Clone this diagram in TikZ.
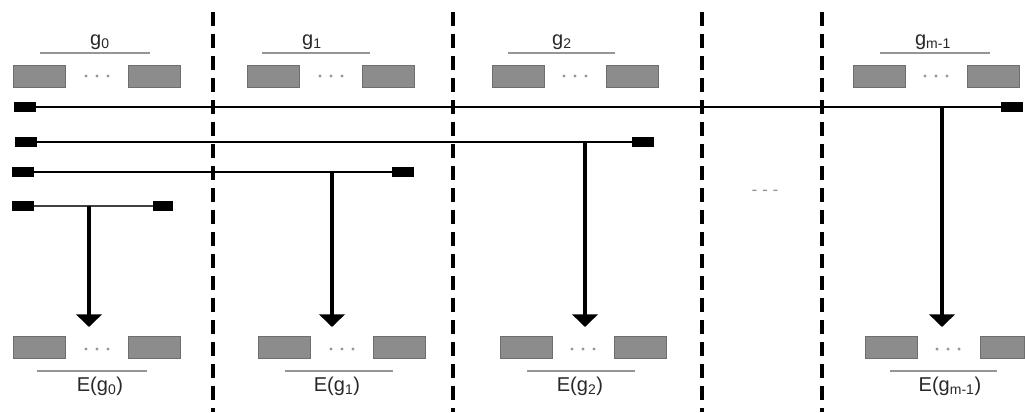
\documentclass[tikz,border=0pt]{standalone}
\usepackage{fontspec}
\setmainfont{Liberation Sans}
\usetikzlibrary{arrows.meta}
\definecolor{boxfill}{RGB}{140,140,140}
\definecolor{boxline}{RGB}{110,110,110}
\definecolor{txt}{RGB}{40,40,40}
\definecolor{uline}{RGB}{150,150,150}
\tikzset{
  gbox/.style={fill=boxfill,draw=boxline,line width=0.5pt,minimum width=39pt,minimum height=16.5pt,inner sep=0pt},
  blk/.style={fill=black,minimum width=16.5pt,minimum height=7pt,inner sep=0pt},
  lbl/.style={text=txt,font=\fontsize{15}{17}\selectfont,inner sep=0pt},
  ul/.style={draw=uline,line width=0.8pt},
  hline/.style={line width=1.5pt},
  drop/.style={line width=2.4pt,-{Triangle[width=19pt,length=9.5pt]}},
  sep/.style={line width=3.3pt,dash pattern=on 10.5pt off 6pt},
  dotc/.style={fill=uline,circle,inner sep=0pt,minimum size=2.6pt},
}
\newcommand{\gdots}[2]{%
  \node[dotc] at (#1-11,#2) {};
  \node[dotc] at (#1,#2) {};
  \node[dotc] at (#1+11,#2) {};}
\begin{document}
\begin{tikzpicture}[x=0.75pt,y=-0.75pt]
\useasboundingbox (0,0) rectangle (1025,412);
\fill[white] (0,0) rectangle (1025,412);
% separators
\foreach \i/\x in {1/213,2/453,3/702,4/822}{
  \coordinate (st\i) at (\x,12);
  \coordinate (sb\i) at (\x,412);
  \draw[sep] (st\i) -- (sb\i);
}
% top labels
\node[lbl] (g0) at (100,42) {g\textsubscript{0}};
\node[lbl] (g1) at (312,42) {g\textsubscript{1}};
\node[lbl] (g2) at (562,42) {g\textsubscript{2}};
\node[lbl] (gm) at (933,42) {g\textsubscript{m-1}};
\draw[ul] (40,53) -- (150,53);
\draw[ul] (262,53) -- (370,53);
\draw[ul] (508,53) -- (615,53);
\draw[ul] (880,53) -- (990,53);
% top boxes
\node[gbox] (t0a) at (39,76) {};  \node[gbox] (t0b) at (154,76) {}; \gdots{97}{76}
\node[gbox] (t1a) at (273,76) {}; \node[gbox] (t1b) at (388,76) {}; \gdots{331}{76}
\node[gbox] (t2a) at (518,76) {}; \node[gbox] (t2b) at (632,76) {}; \gdots{575}{76}
\node[gbox] (tma) at (879,76) {}; \node[gbox] (tmb) at (993,76) {}; \gdots{936}{76}
% lines with blocks
\node[blk] (l1a) at (25,107) {};  \node[blk] (l1b) at (1012,107) {};
\node[blk] (l2a) at (26,142) {};  \node[blk] (l2b) at (643,142) {};
\node[blk] (l3a) at (23,172) {};  \node[blk] (l3b) at (403,172) {};
\node[blk] (l4a) at (23,206) {};  \node[blk,minimum width=15pt] (l4b) at (163,206) {};
\draw[hline] (l1a) -- (l1b);
\draw[hline] (l2a) -- (l2b);
\draw[hline] (l3a) -- (l3b);
\draw[line width=1pt,draw=black!75] (l4a) -- (l4b);
% drops
\coordinate (d1) at (942,107); \coordinate (e1) at (942,327);
\coordinate (d2) at (585,142); \coordinate (e2) at (585,327);
\coordinate (d3) at (332,172); \coordinate (e3) at (332,327);
\coordinate (d4) at (89,206);  \coordinate (e4) at (89,327);
\draw[drop] (d1) -- (e1);
\draw[drop] (d2) -- (e2);
\draw[drop] (d3) -- (e3);
\draw[drop] (d4) -- (e4);
% middle dots
\node[text=uline,font=\fontsize{13}{15}\selectfont] (mid) at (765,193) {- - -};
% bottom boxes
\node[gbox] (b0a) at (39,347) {};  \node[gbox] (b0b) at (154,347) {}; \gdots{97}{349}
\node[gbox] (b1a) at (284,347) {}; \node[gbox] (b1b) at (399,347) {}; \gdots{342}{349}
\node[gbox] (b2a) at (526,347) {}; \node[gbox] (b2b) at (640,347) {}; \gdots{583}{349}
\node[gbox] (bma) at (891,347) {}; \node[gbox,minimum width=33pt] (bmb) at (1002,347) {}; \gdots{948}{349}
\draw[ul] (37,371) -- (147,371);
\draw[ul] (285,371) -- (393,371);
\draw[ul] (527,371) -- (635,371);
\draw[ul] (890,371) -- (997,371);
\node[lbl] (E0) at (100,386) {E(g\textsubscript{0})};
\node[lbl] (E1) at (337,386) {E(g\textsubscript{1})};
\node[lbl] (E2) at (580,386) {E(g\textsubscript{2})};
\node[lbl] (Em) at (950,386) {E(g\textsubscript{m-1})};
\end{tikzpicture}
\end{document}
